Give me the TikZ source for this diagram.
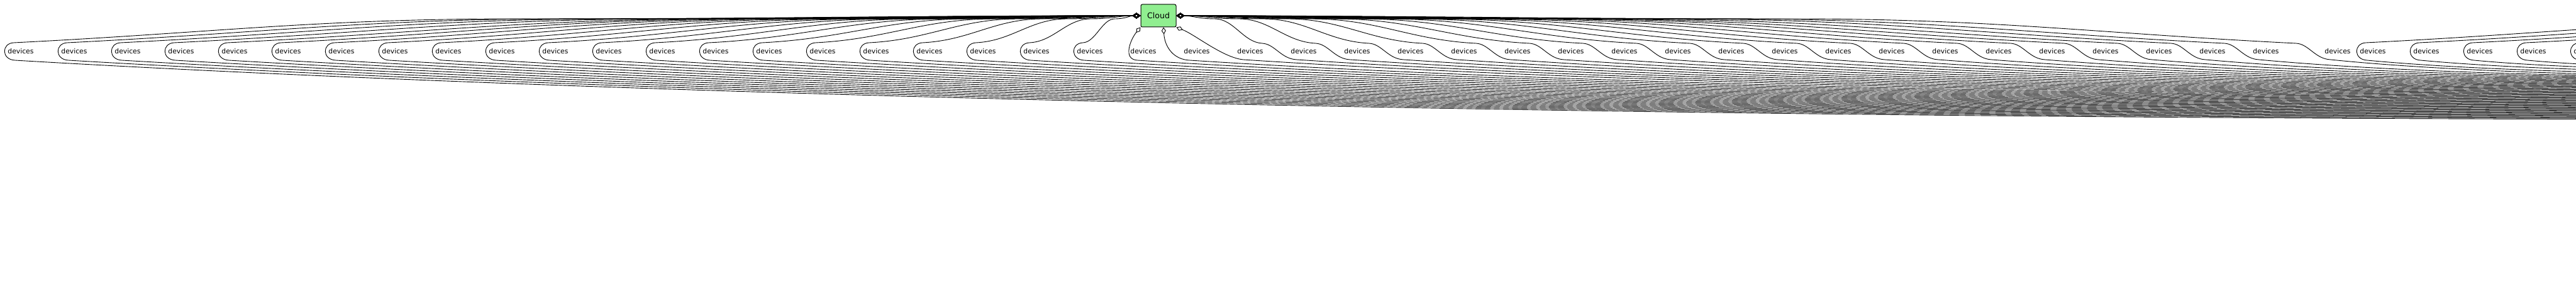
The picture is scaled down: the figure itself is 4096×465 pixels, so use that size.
\documentclass[tikz,border=0pt]{standalone}
\usepackage{fontspec}
\setmainfont{DejaVu Sans}
\usetikzlibrary{arrows.meta}
\definecolor{cloudgreen}{RGB}{144,238,144}
\tikzset{
  devlabel/.style={anchor=base west, inner sep=0pt, font=\fontsize{5.4}{6}\selectfont},
  cloudbox/.style={draw, fill=cloudgreen, rounded corners=1.2pt, line width=0.5pt, minimum width=28pt, minimum height=18pt, inner sep=0pt, font=\fontsize{6.3}{7}\selectfont},
  link/.style={line width=0.45pt},
  agg/.style={link, {Diamond[open, length=6.5pt, width=4.5pt, line width=1pt]}-},
  aggthin/.style={link, {Diamond[open, length=5.5pt, width=3.5pt]}-}
}

\begin{document}
\begin{tikzpicture}[x=0.5pt, y=-0.5pt]
\useasboundingbox (0,0) rectangle (4096,465);
\clip (0,0) rectangle (4096,465);

\node[cloudbox] (cloud) at (1842,25) {Cloud};
\coordinate (hub) at (5600,25);

\foreach \k in {0,...,20}{
  \pgfmathsetmacro\lx{12+85*\k}
  \pgfmathsetmacro\ex{\lx+10}
  \pgfmathsetmacro\len{min(800,0.55*(1814-\ex))}
  \pgfmathsetmacro\wx{\ex+\len}
  \pgfmathsetmacro\pa{1814-0.4*(1814-\wx)}
  \pgfmathsetmacro\pb{\wx+0.4*(1814-\wx)}
  \pgfmathsetmacro\qa{\wx-0.4*\len}
  \pgfmathsetmacro\qb{\ex+0.4*\len}
  \pgfmathsetmacro\qy{68-0.02*\len}
  \pgfmathsetmacro\yt{190-1.6*\k}
  \pgfmathsetmacro\bx{\lx+12}
  \pgfmathsetmacro\ca{\bx+0.2*(4400-\bx)}
  \pgfmathsetmacro\cy{96+0.55*(\yt-96)}
  \pgfmathsetmacro\cb{\bx+0.55*(4400-\bx)}
  \node[devlabel] (dev\k) at (\lx,86) {devices};
  \coordinate (tgt\k) at (4400,\yt);
  \draw[agg] (cloud.west) .. controls (\pa,25) and (\pb,30) .. (\wx,30)
    .. controls (\qa,30) and (\qb,\qy) .. (\ex,68)
    .. controls (\lx-10,69) and (\lx-10,95) .. (\bx,96)
    .. controls (\ca,\cy) and (\cb,\yt) .. (tgt\k);
}

\node[devlabel] (dev21) at (1797,86) {devices};
\coordinate (tgt21) at (4400,156.4);
\draw[aggthin] (cloud.south west) .. controls (1798,62) and (1784,95) .. (1809,96)
  .. controls (2327,129.2) and (3234,156.4) .. (tgt21);

\node[devlabel] (dev22) at (1882,86) {devices};
\coordinate (tgt22) at (4400,154.8);
\draw[aggthin] ([xshift=4pt]cloud.south) .. controls (1852,75) and (1866,95) .. (1892,96)
  .. controls (2394,128.3) and (3271,154.8) .. (tgt22);

\node[devlabel] (dev23) at (1967,86) {devices};
\coordinate (tgt23) at (4400,153.2);
\draw[aggthin] (cloud.south east) .. controls (1900,55) and (1945,92) .. (1977,95)
  .. controls (2462,127) and (3310,153.2) .. (tgt23);

\foreach \k in {24,...,43}{
  \pgfmathsetmacro\lx{\k==43 ? 3696 : 12+85*\k}
  \pgfmathsetmacro\ex{\lx-45}
  \pgfmathsetmacro\len{min(800,0.55*(\ex-1870))}
  \pgfmathsetmacro\wx{\ex-\len}
  \pgfmathsetmacro\pa{1870+0.4*(\wx-1870)}
  \pgfmathsetmacro\pb{\wx-0.4*(\wx-1870)}
  \pgfmathsetmacro\qa{\wx+0.4*\len}
  \pgfmathsetmacro\qb{\ex-0.4*\len}
  \pgfmathsetmacro\qy{69-0.02*\len}
  \pgfmathsetmacro\yt{190-1.6*\k}
  \pgfmathsetmacro\bx{\lx+10}
  \pgfmathsetmacro\ca{\bx+0.2*(4400-\bx)}
  \pgfmathsetmacro\cy{95+0.55*(\yt-95)}
  \pgfmathsetmacro\cb{\bx+0.55*(4400-\bx)}
  \node[devlabel] (dev\k) at (\lx,86) {devices};
  \coordinate (tgt\k) at (4400,\yt);
  \draw[agg] (cloud.east) .. controls (\pa,25) and (\pb,30) .. (\wx,30)
    .. controls (\qa,30) and (\qb,\qy) .. (\ex,69)
    .. controls (\lx-25,70) and (\lx-15,94) .. (\bx,95)
    .. controls (\ca,\cy) and (\cb,\yt) .. (tgt\k);
}

\foreach \k in {44,...,48}{
  \pgfmathsetmacro\lx{12+85*\k}
  \pgfmathsetmacro\ex{\lx+10}
  \pgfmathsetmacro\len{min(800,0.55*(5600-\ex))}
  \pgfmathsetmacro\wx{\ex+\len}
  \pgfmathsetmacro\pa{5600-0.4*(5600-\wx)}
  \pgfmathsetmacro\pb{\wx+0.4*(5600-\wx)}
  \pgfmathsetmacro\qa{\wx-0.4*\len}
  \pgfmathsetmacro\qb{\ex+0.4*\len}
  \pgfmathsetmacro\qy{68-0.02*\len}
  \pgfmathsetmacro\yt{118-3*(\k-44)}
  \pgfmathsetmacro\bx{\lx+12}
  \pgfmathsetmacro\ca{\bx+0.2*(4400-\bx)}
  \pgfmathsetmacro\cy{96+0.55*(\yt-96)}
  \pgfmathsetmacro\cb{\bx+0.55*(4400-\bx)}
  \node[devlabel] (dev\k) at (\lx,86) {devices};
  \coordinate (tgt\k) at (4400,\yt);
  \draw[link] (hub) .. controls (\pa,25) and (\pb,30) .. (\wx,30)
    .. controls (\qa,30) and (\qb,\qy) .. (\ex,68)
    .. controls (\lx-10,69) and (\lx-10,95) .. (\bx,96)
    .. controls (\ca,\cy) and (\cb,\yt) .. (tgt\k);
}
\end{tikzpicture}
\end{document}
